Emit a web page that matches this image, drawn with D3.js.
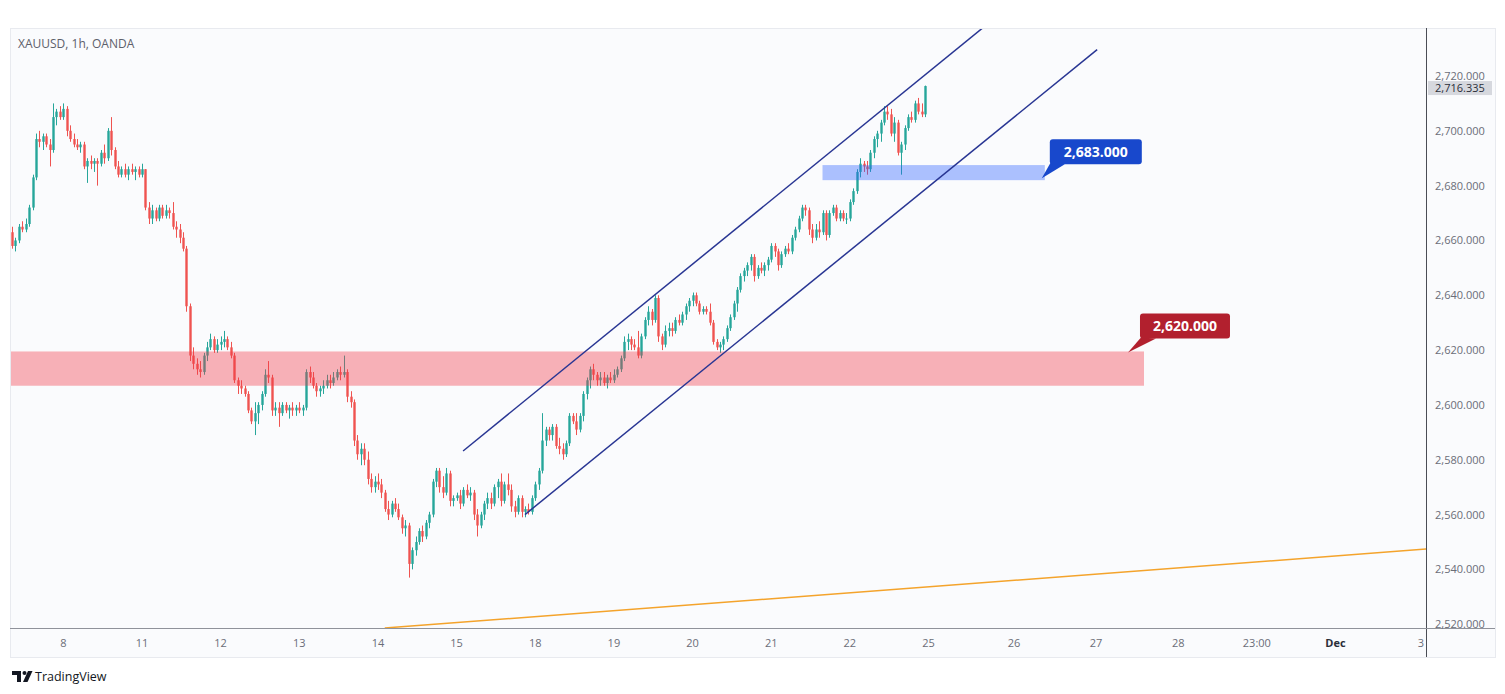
<!DOCTYPE html>
<html><head><meta charset="utf-8">
<script src="https://cdn.jsdelivr.net/npm/d3@7"></script>
<style>body{margin:0;background:#fff}svg{display:block}</style>
</head><body><svg id="c" width="1505" height="694"></svg>
<script>
// ---- DATA (hourly candles, bar index 0 = Nov 7 ~08:00) ----
const opens=[
2663,2658,2660,2665,2664,2666,2672,2683,2697,2696,2698,2695,2693,2705,2707,
2705,2708,2700,2697,2695,2694,2695,2687,2689,2688,2689,2688,2692,2690,2700,2693,2687,2684,2686,2684,2686,2685,2686,
2684,2686,2672,2668,2671,2668,2672,2669,2671,2670,2665,2664,2661,2657,2636,2618,2615,2613,2612,2618,2621,2624,2620,
2622,2623,2624,2621,2618,2609,2607,2606,2604,2598,2594,2597,2600,2604,2611,2610,2598,2599,2597,2600,2598,2599,2598,
2599,2598,2599,2612,2610,2607,2605,2606,2607,2609,2608,2610,2612,2611,2612,2603,2601,2587,2582,2584,2580,2573,2570,
2572,2571,2568,2562,2560,2564,2562,2559,2555,2556,2542,2547,2550,2554,2552,2557,2560,2572,2576,2570,2568,2575,2565,
2566,2567,2564,2569,2567,2568,2560,2556,2560,2564,2566,2564,2570,2572,2565,2571,2569,2563,2561,2566,2561,2562,2561,
2566,2571,2576,2587,2591,2589,2592,2585,2584,2582,2586,2596,2594,2591,2596,2604,2609,2613,2611,2609,2610,2608,2610,
2609,2611,2613,2617,2623,2624,2622,2621,2618,2625,2631,2634,2631,2639,2625,2622,2627,2628,2627,2631,2630,2633,2636,
2638,2640,2637,2634,2635,2634,2630,2623,2621,2622,2624,2628,2632,2637,2642,2647,2649,2651,2654,2647,2650,2649,2651,
2653,2658,2656,2651,2655,2657,2656,2661,2664,2668,2672,2671,2664,2661,2664,2663,2670,2662,2670,2672,2668,2670,2668,
2668,2674,2678,2685,2688,2687,2686,2692,2697,2699,2703,2707,2706,2699,2703,2692,2695,2701,2705,2704,2710,2707,2706];
const highs=[
2665,2661,2666,2667,2668,2673,2684,2699,2700,2699,2699,2697,2710,2708,2709,
2710,2709,2702,2699,2697,2696,2696,2690,2691,2690,2690,2693,2695,2701,2705,2694,2689,2687,2688,2687,2688,2687,2687,
2688,2686,2674,2673,2672,2673,2673,2673,2672,2674,2667,2666,2663,2658,2637,2621,2617,2616,2619,2623,2626,2625,2624,
2625,2627,2625,2623,2619,2610,2609,2607,2605,2599,2601,2601,2605,2613,2616,2611,2601,2601,2601,2601,2600,2601,2600,
2601,2600,2613,2614,2612,2608,2607,2609,2611,2611,2612,2613,2614,2618,2613,2605,2602,2589,2586,2586,2583,2575,2574,
2575,2573,2569,2565,2565,2566,2564,2560,2558,2557,2548,2552,2555,2556,2558,2561,2573,2577,2577,2574,2577,2576,2567,
2568,2569,2570,2571,2570,2569,2562,2561,2565,2568,2568,2571,2573,2575,2572,2575,2571,2565,2567,2567,2563,2564,2567,
2572,2577,2597,2592,2592,2593,2593,2588,2586,2587,2597,2597,2597,2597,2605,2610,2614,2615,2612,2612,2612,2611,2612,
2613,2614,2618,2625,2626,2625,2624,2627,2626,2632,2636,2635,2640,2640,2626,2629,2630,2630,2632,2633,2634,2637,2639,
2641,2641,2638,2636,2636,2637,2631,2624,2623,2625,2629,2633,2638,2643,2648,2650,2652,2655,2655,2651,2652,2652,2654,
2659,2659,2657,2656,2658,2659,2662,2665,2669,2673,2673,2672,2666,2666,2667,2671,2671,2671,2673,2673,2671,2671,2670,
2675,2679,2686,2690,2689,2689,2693,2698,2700,2704,2709,2709,2708,2705,2704,2696,2702,2706,2707,2711,2712,2710,2716.5];
const lows=[
2657,2656,2659,2663,2663,2665,2671,2682,2694,2693,2694,2687,2692,2702,2704,
2704,2698,2696,2694,2693,2692,2686,2681,2686,2685,2680,2687,2688,2689,2691,2686,2683,2683,2683,2682,2684,2682,2683,
2683,2671,2666,2666,2667,2667,2668,2668,2668,2664,2661,2659,2656,2634,2616,2613,2611,2610,2611,2616,2620,2619,2619,
2620,2621,2620,2617,2608,2604,2604,2603,2597,2593,2589,2593,2598,2603,2608,2596,2596,2592,2596,2597,2595,2596,2596,
2597,2596,2598,2608,2606,2603,2603,2604,2606,2606,2607,2609,2609,2610,2601,2599,2585,2580,2578,2578,2571,2568,2568,
2569,2566,2561,2558,2559,2561,2558,2553,2552,2537,2540,2545,2549,2550,2551,2555,2559,2570,2568,2566,2567,2563,2563,
2565,2562,2563,2566,2565,2558,2552,2555,2558,2562,2562,2563,2566,2563,2564,2567,2561,2559,2560,2559,2559,2560,2560,
2565,2569,2575,2585,2587,2587,2584,2582,2580,2581,2585,2593,2589,2590,2594,2602,2606,2609,2607,2607,2607,2606,2608,
2608,2610,2612,2616,2620,2620,2620,2617,2617,2624,2629,2629,2630,2623,2620,2621,2625,2625,2626,2629,2629,2631,2634,
2636,2636,2633,2633,2633,2629,2622,2620,2619,2620,2623,2627,2631,2634,2641,2645,2647,2649,2645,2646,2648,2647,2649,
2652,2654,2649,2650,2654,2655,2655,2660,2663,2667,2669,2662,2659,2660,2661,2662,2660,2661,2669,2667,2667,2667,2666,
2667,2673,2677,2683,2685,2684,2685,2690,2694,2696,2702,2704,2698,2696,2691,2684,2693,2700,2703,2703,2706,2705,2705];
const closes=[
2658,2660,2665,2664,2666,2672,2683,2697,2696,2698,2695,2693,2705,2707,2705,
2708,2700,2697,2695,2694,2695,2687,2689,2688,2689,2688,2692,2690,2700,2693,2687,2684,2686,2684,2686,2685,2686,2684,
2686,2672,2668,2671,2668,2672,2669,2671,2670,2665,2664,2661,2657,2636,2618,2615,2613,2612,2618,2621,2624,2620,2622,
2623,2624,2621,2618,2609,2607,2606,2604,2598,2594,2597,2600,2604,2611,2610,2598,2599,2597,2600,2598,2599,2598,2599,
2598,2599,2612,2610,2607,2605,2606,2607,2609,2608,2610,2612,2611,2612,2603,2601,2587,2582,2584,2580,2573,2570,2572,
2571,2568,2562,2560,2564,2562,2559,2555,2556,2542,2547,2550,2554,2552,2557,2560,2572,2576,2570,2568,2575,2565,2566,
2567,2564,2569,2567,2568,2560,2556,2560,2564,2566,2564,2570,2572,2565,2571,2569,2563,2561,2566,2561,2562,2561,2566,
2571,2576,2587,2591,2589,2592,2585,2584,2582,2586,2596,2594,2591,2596,2604,2609,2613,2611,2609,2610,2608,2610,2609,
2611,2613,2617,2623,2624,2622,2621,2618,2625,2631,2634,2631,2639,2625,2622,2627,2628,2627,2631,2630,2633,2636,2638,
2640,2637,2634,2635,2634,2630,2623,2621,2622,2624,2628,2632,2637,2642,2647,2649,2651,2654,2647,2650,2649,2651,2653,
2658,2656,2651,2655,2657,2656,2661,2664,2668,2672,2671,2664,2661,2664,2663,2670,2662,2670,2672,2668,2670,2668,2668,
2674,2678,2685,2688,2687,2686,2692,2697,2699,2703,2707,2706,2699,2703,2692,2695,2701,2705,2704,2710,2707,2706,2716.335];

const timeTickIdx=[15,38,61,84,107,130,153,176,199,222,245,268,293,317,341,364,387,412];
const timeTickLabels=["8","11","12","13","14","15","18","19","20","21","22","25","26","27","28","23:00","Dec","3"];
const priceTicks=[2520,2540,2560,2580,2600,2620,2640,2660,2680,2700,2720];
const lastPrice=2716.335;
// zones: [startIdx, endIdx, lowPrice, highPrice], label value
const redZone=[-1,331,2607,2619.5], redZoneLabel=2620;
const blueZone=[237,302,2682,2687.5], blueZoneLabel=2683;
// channel & trend lines: [[idx,price],[idx,price]]
const channelUpper=[[131.9,2583.2],[283.9,2737.6]];
const channelLower=[[150,2560],[317.3,2729.6]];
const trendLine=[[109,2518.6],[413.5,2547.4]];

// ---- CHART ----
const svg=d3.select('#c');
const F='"Open Sans", "DejaVu Sans", sans-serif';
const P={l:10,r:1426,t:28,b:628.5,R:1495,B:657};
const x=d3.scaleLinear().domain([0,412]).range([12,1421]);
const y=d3.scaleLinear().domain([2520,2720]).range([624.2,76]);

svg.append('rect').attr('width',1505).attr('height',694).attr('fill','#fff');
svg.append('rect').attr('x',P.l+0.5).attr('y',P.t+0.5).attr('width',P.R-P.l).attr('height',P.B-P.t)
  .attr('fill','#fafbfd').attr('stroke','#e8eaef');

const defs=svg.append('defs');
defs.append('clipPath').attr('id','plot').append('rect')
  .attr('x',P.l+1).attr('y',P.t+1).attr('width',P.r-P.l-1).attr('height',P.b-P.t-1);
const pg=svg.append('g').attr('clip-path','url(#plot)');

// candles
const idx=d3.range(closes.length);
const up=i=>closes[i]>=opens[i];
const col=i=>up(i)?'#26a69a':'#ef5350';
pg.append('g').selectAll('line').data(idx).join('line')
  .attr('x1',i=>Math.round(x(i))+0.5).attr('x2',i=>Math.round(x(i))+0.5)
  .attr('y1',i=>y(highs[i])).attr('y2',i=>y(lows[i]))
  .attr('stroke',col).attr('stroke-width',1);
const bw=2.4;
pg.append('g').selectAll('rect').data(idx).join('rect')
  .attr('x',i=>Math.round(x(i))+0.5-bw/2)
  .attr('y',i=>y(Math.max(opens[i],closes[i])))
  .attr('width',bw)
  .attr('height',i=>Math.max(1,y(Math.min(opens[i],closes[i]))-y(Math.max(opens[i],closes[i]))))
  .attr('fill',col);

// zones
function zone(z,color){
  pg.append('rect').attr('x',Math.max(P.l,x(z[0]))).attr('y',y(z[3]))
    .attr('width',x(z[1])-Math.max(P.l,x(z[0]))).attr('height',y(z[2])-y(z[3]))
    .attr('fill',color).attr('fill-opacity',0.38);
}
zone(redZone,'#f23645');
zone(blueZone,'#2962ff');

// lines
const ln=d3.line().x(d=>x(d[0])).y(d=>y(d[1]));
pg.append('path').attr('d',ln(channelUpper)).attr('stroke','#283593').attr('stroke-width',1.5).attr('fill','none');
pg.append('path').attr('d',ln(channelLower)).attr('stroke','#283593').attr('stroke-width',1.5).attr('fill','none');
pg.append('path').attr('d',ln(trendLine)).attr('stroke','#f4a32b').attr('stroke-width',1.5).attr('fill','none');

// zone labels
const fmt=d3.format(',.3f');
function callout(bx,by,w,h,tip,base,color,val){
  const g=svg.append('g');
  g.append('path').attr('d',`M${base[0]},${base[1]} L${tip[0]},${tip[1]} L${base[2]},${base[3]} Z`).attr('fill',color);
  g.append('rect').attr('x',bx).attr('y',by).attr('width',w).attr('height',h).attr('rx',3).attr('fill',color);
  g.append('text').attr('x',bx+w/2).attr('y',by+h/2+5).attr('text-anchor','middle')
    .attr('font-family',F).attr('font-weight',700).attr('font-size',14).attr('fill','#fff').text(fmt(val));
}
{
  const ex=x(redZone[1]), ty=y(redZone[3]);
  callout(ex-4,ty-38,90,25,[ex-16,ty+1],[ex-3,ty-14,ex+12,ty-13],'#b2202e',redZoneLabel);
  const bx=x(blueZone[1]), by=y(blueZone[2]);
  callout(bx+5,by-41,92,25,[bx-3,by-2],[bx+6,by-18,bx+20,by-16],'#1848cc',blueZoneLabel);
}

// axes lines
svg.append('line').attr('x1',P.r+0.5).attr('x2',P.r+0.5).attr('y1',P.t).attr('y2',P.B).attr('stroke','#4a4d55').attr('stroke-width',1);
svg.append('line').attr('x1',P.l).attr('x2',P.R).attr('y1',P.b).attr('y2',P.b).attr('stroke','#8f929a').attr('stroke-width',1);

// price axis labels
const pa=svg.append('g');
pa.selectAll('text').data(priceTicks).join('text')
  .attr('x',1435).attr('y',d=>y(d)+4).attr('font-family',F).attr('font-size',11).attr('fill','#6a6d78')
  .text(d=>fmt(d));
const ly=y(lastPrice)+2;
svg.append('rect').attr('x',P.r+2).attr('y',ly-7).attr('width',64).attr('height',14).attr('fill','#d6d8de');
svg.append('text').attr('x',1435).attr('y',ly+4).attr('font-family',F).attr('font-size',11).attr('fill','#2a2e39').text(fmt(lastPrice));

// time axis labels
const tg=svg.append('g').attr('clip-path',null);
defs.append('clipPath').attr('id','tax').append('rect').attr('x',P.l).attr('y',P.b).attr('width',P.r-P.l).attr('height',P.B-P.b);
svg.append('g').attr('clip-path','url(#tax)').selectAll('text').data(timeTickIdx).join('text')
  .attr('x',d=>x(d)).attr('y',647).attr('text-anchor','middle').attr('font-family',F).attr('font-size',11)
  .attr('fill',(d,i)=>timeTickLabels[i]==='Dec'?'#2a2e39':'#6a6d78')
  .attr('font-weight',(d,i)=>timeTickLabels[i]==='Dec'?700:400)
  .text((d,i)=>timeTickLabels[i]);

// title
svg.append('text').attr('x',18).attr('y',48).attr('font-family',F).attr('font-size',12).attr('fill','#5d606b').text('XAUUSD, 1h, OANDA');

// TradingView logo
const lg=svg.append('g').attr('fill','#131722');
lg.append('path').attr('d','M12,671 h9 v11 h-4 v-7 h-5 z');
lg.append('circle').attr('cx',24.5).attr('cy',673).attr('r',2);
lg.append('path').attr('d','M28,671 h4.5 l-5,11 h-4.5 z');
svg.append('text').attr('x',35).attr('y',681).attr('font-family',F).attr('font-size',12.5).attr('fill','#131722').text('TradingView');
</script></body></html>
